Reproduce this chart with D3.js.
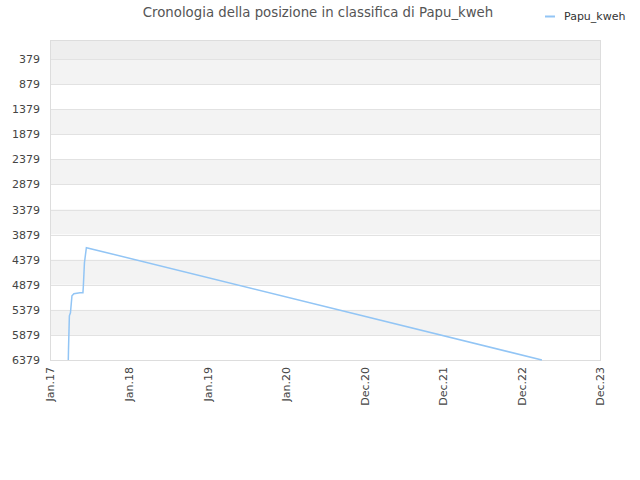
<!DOCTYPE html>
<html>
<head>
<meta charset="utf-8">
<script src="https://cdn.jsdelivr.net/npm/d3@7"></script>
<style>
  body { margin: 0; background: #fff; }
  text { font-family: "DejaVu Sans", sans-serif; }
</style>
</head>
<body>
<svg width="640" height="480"></svg>
<script>
// data
let title = 'Cronologia della posizione in classifica di Papu_kweh'
let seriesName = 'Papu_kweh'
let dates = ['2017-03-27', '2017-03-28', '2017-04-01', '2017-04-06', '2017-04-13', '2017-04-22',
  '2017-05-20', '2017-06-03', '2017-06-05', '2017-06-10', '2017-06-19', '2023-04-05']
let ranks = [6379, 6159, 5499, 5439, 5099, 5059, 5039, 5039, 4899, 4439, 4139, 6379]
let yTicks = [379, 879, 1379, 1879, 2379, 2879, 3379, 3879, 4379, 4879, 5379, 5879, 6379]
let xTickDates = ['2017-01-01', '2018-01-01', '2019-01-01', '2020-01-01', '2020-12-31', '2021-12-31', '2022-12-31', '2023-12-31']
let xTickLabels = ['Jan.17', 'Jan.18', 'Jan.19', 'Jan.20', 'Dec.20', 'Dec.21', 'Dec.22', 'Dec.23']

let parse = d3.timeParse('%Y-%m-%d')
let svg = d3.select('svg')
let mLeft = 50, mRight = 600, mTop = 40, mBottom = 360

let x = d3.scaleTime()
  .domain([parse('2017-01-01'), parse('2023-12-31')])
  .range([mLeft, mRight])
let y = d3.scaleLinear()
  .domain([-1, 6379])
  .range([mTop, mBottom])

// background bands
let bandEdges = [-1].concat(yTicks)
let bands = d3.pairs(bandEdges)
svg.append('g').selectAll('rect')
  .data(bands)
  .enter()
  .append('rect')
    .attr('x', mLeft)
    .attr('width', mRight - mLeft)
    .attr('y', function(d) { return y(d[0]) })
    .attr('height', function(d) { return y(d[1]) - y(d[0]) })
    .attr('fill', function(d, i) { return i == 0 ? '#eeeeee' : (i % 2 == 1 ? '#f3f3f3' : '#ffffff') })

// grid lines
svg.append('g').selectAll('line')
  .data(yTicks)
  .enter()
  .append('line')
    .attr('x1', mLeft).attr('x2', mRight)
    .attr('y1', function(d) { return Math.round(y(d)) + 0.5 })
    .attr('y2', function(d) { return Math.round(y(d)) + 0.5 })
    .attr('stroke', '#e2e2e2')

svg.append('rect')
  .attr('x', mLeft + 0.5).attr('y', mTop + 0.5)
  .attr('width', mRight - mLeft).attr('height', mBottom - mTop)
  .attr('fill', 'none')
  .attr('stroke', '#dddddd')

// y axis
let yAxis = svg.append('g')
  .attr('transform', 'translate(' + mLeft + ',0)')
  .call(d3.axisLeft(y).tickValues(yTicks).tickSize(0).tickPadding(10).tickFormat(d3.format('d')))
yAxis.select('.domain').remove()
yAxis.selectAll('text').attr('fill', '#444').style('font-size', '11px')

// x axis
let xAxis = svg.append('g')
  .attr('transform', 'translate(0,' + mBottom + ')')
  .call(d3.axisBottom(x).tickValues(xTickDates.map(parse)).tickSize(0)
    .tickFormat(function(d, i) { return xTickLabels[i] }))
xAxis.select('.domain').remove()
xAxis.selectAll('text')
  .attr('fill', '#444')
  .style('font-size', '11px')
  .attr('text-anchor', 'end')
  .attr('transform', 'rotate(-90)')
  .attr('x', -7)
  .attr('y', 0)
  .attr('dy', '0.35em')

// line
let line = d3.line()
  .x(function(d, i) { return x(parse(dates[i])) })
  .y(function(d) { return y(d) })

svg.append('path')
  .datum(ranks)
  .attr('d', line)
  .attr('fill', 'none')
  .attr('stroke', '#92c5f5')
  .attr('stroke-width', 1.5)

// title
svg.append('text')
  .attr('x', 318).attr('y', 17)
  .attr('text-anchor', 'middle')
  .attr('fill', '#555')
  .style('font-size', '13.3px')
  .text(title)

// legend
svg.append('line')
  .attr('x1', 545).attr('x2', 555)
  .attr('y1', 16.5).attr('y2', 16.5)
  .attr('stroke', '#92c5f5')
  .attr('stroke-width', 2)
svg.append('text')
  .attr('x', 564).attr('y', 20)
  .attr('fill', '#333')
  .style('font-size', '11px')
  .text(seriesName)
</script>
</body>
</html>
